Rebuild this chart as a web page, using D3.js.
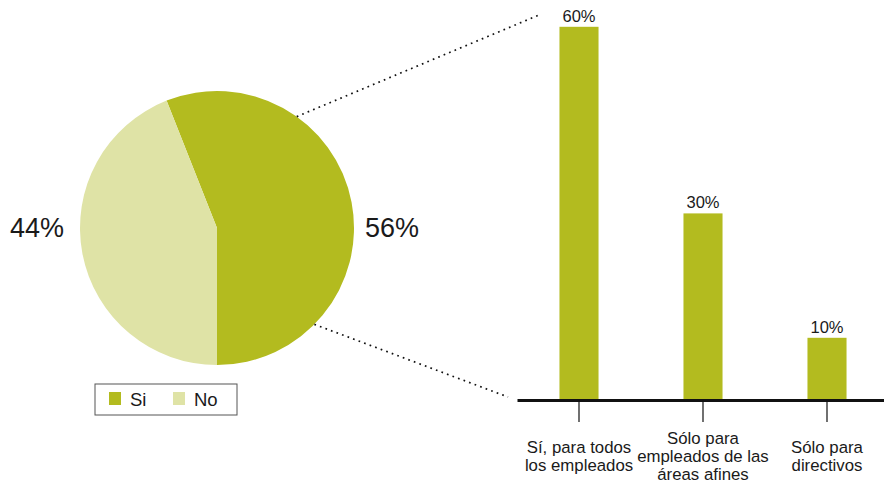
<!DOCTYPE html>
<html>
<head>
<meta charset="utf-8">
<script src="https://cdn.jsdelivr.net/npm/d3@7"></script>
<style>
  body { margin: 0; background: #fff; }
  text { font-family: "Liberation Sans", Arial, sans-serif; fill: #1a1a1a; }
</style>
</head>
<body>
<script>
const pieLabels = ["Si", "No"];
const pieValues = [56, 44];
const barCategories = [["Sí, para todos", "los empleados"], ["Sólo para", "empleados de las", "áreas afines"], ["Sólo para", "directivos"]];
const barValues = [60, 30, 10];

const w = 884, h = 483;
const green = "#b3bb1f", light = "#dfe3a6";

const svg = d3.select("body").append("svg").attr("width", w).attr("height", h);

// pie
const cx = 217, cy = 228, r = 137;
const pie = d3.pie().sort(null).startAngle(-0.06 * 2 * Math.PI).endAngle(0.94 * 2 * Math.PI);
const arcs = pie(pieValues);
const arc = d3.arc().innerRadius(0).outerRadius(r);
const color = d3.scaleOrdinal().domain(pieLabels).range([green, light]);

const pg = svg.append("g").attr("transform", `translate(${cx},${cy})`);
pg.selectAll("path").data(arcs).enter().append("path")
  .attr("d", arc)
  .attr("fill", (d, i) => color(pieLabels[i]));

svg.append("text").attr("x", 365).attr("y", 237).attr("font-size", 27).text(pieValues[0] + "%");
svg.append("text").attr("x", 64).attr("y", 237).attr("font-size", 27).attr("text-anchor", "end").text(pieValues[1] + "%");

// legend
const lg = svg.append("g").attr("transform", "translate(95,384)");
lg.append("rect").attr("width", 142).attr("height", 31).attr("fill", "#fff").attr("stroke", "#555").attr("stroke-width", 1);
pieLabels.forEach((l, i) => {
  const g = lg.append("g").attr("transform", `translate(${14 + i * 64},8)`);
  g.append("rect").attr("width", 12).attr("height", 13).attr("fill", color(l));
  g.append("text").attr("x", 21).attr("y", 14).attr("font-size", 18.5).text(l);
});

// bars
const x = d3.scaleBand().domain(d3.range(barValues.length)).range([517, 889])
  .paddingInner(0.685).paddingOuter(0.3425);
const y = d3.scaleLinear().domain([0, 10]).range([400, 337.8]);

svg.selectAll(".bar").data(barValues).enter().append("rect")
  .attr("class", "bar")
  .attr("x", (d, i) => x(i))
  .attr("y", d => y(d))
  .attr("width", x.bandwidth())
  .attr("height", d => y(0) - y(d))
  .attr("fill", green);

svg.selectAll(".val").data(barValues).enter().append("text")
  .attr("class", "val")
  .attr("x", (d, i) => x(i) + x.bandwidth() / 2)
  .attr("y", d => y(d) - 5)
  .attr("text-anchor", "middle")
  .attr("font-size", 16.5)
  .text(d => d + "%");

const xAxis = d3.axisBottom(x).tickSize(22).tickSizeOuter(0).tickFormat("");
const ax = svg.append("g").attr("transform", `translate(0,${y(0)})`).call(xAxis);
ax.select(".domain").attr("stroke", "#111").attr("stroke-width", 3);
ax.selectAll(".tick line").attr("stroke", "#111").attr("stroke-width", 1.2);

const lineH = 18, midY = 462;
barCategories.forEach((lines, i) => {
  const t = svg.append("text").attr("text-anchor", "middle").attr("font-size", 16.8);
  lines.forEach((s, j) => {
    t.append("tspan")
      .attr("x", x(i) + x.bandwidth() / 2)
      .attr("y", midY + (j - (lines.length - 1) / 2) * lineH)
      .text(s);
  });
});

// dotted connectors from pie edge to bar chart
const a1 = 35.6 * Math.PI / 180, a2 = 134.7 * Math.PI / 180;
const conn = [
  [[cx + r * Math.sin(a1), cy - r * Math.cos(a1)], [x(0) - 20, y(barValues[0]) - 12]],
  [[cx + r * Math.sin(a2), cy - r * Math.cos(a2)], [x.range()[0] - 9, y(0) - 3]]
];
svg.selectAll(".conn").data(conn).enter().append("line")
  .attr("x1", d => d[0][0]).attr("y1", d => d[0][1])
  .attr("x2", d => d[1][0]).attr("y2", d => d[1][1])
  .attr("stroke", "#111").attr("stroke-width", 1.7)
  .attr("stroke-dasharray", "1.7,4.2");
</script>
</body>
</html>
